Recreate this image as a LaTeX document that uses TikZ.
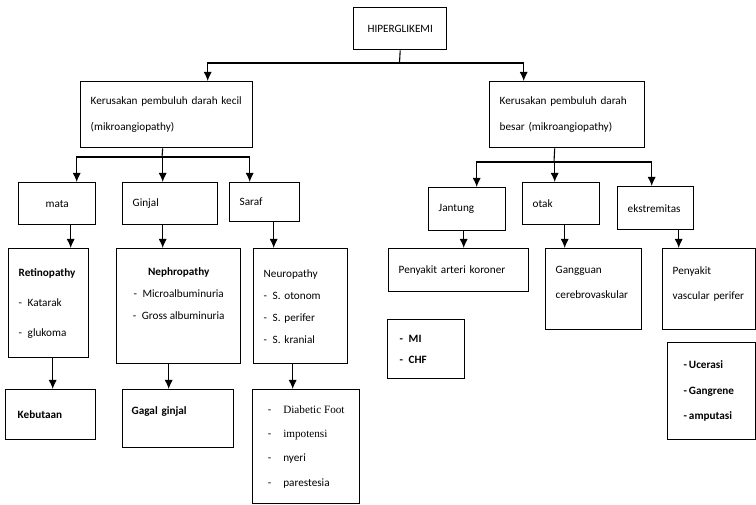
\documentclass[tikz,border=0pt]{standalone}
\usepackage{fontspec}
\setmainfont{Carlito}
\newfontfamily\timesfont{Liberation Serif}
\usepackage{tikz}
\usetikzlibrary{arrows.meta}
\tikzstyle{box} = [draw, line width=1.4pt, anchor=north west, inner xsep=10pt,
    inner ysep=0pt, align=left, font=\fontsize{11.2}{22}\selectfont]
\tikzstyle{line} = [draw, line width=1.1pt, -{Latex[length=9pt,width=8pt]}]

\begin{document}
\begin{tikzpicture}[x=1pt,y=-1pt]
    \useasboundingbox (0,0) rectangle (756,505);

    % Root
    \node [box, align=center, minimum width=93pt, minimum height=42pt] (hiper) at (353,7) {HIPERGLIKEMI};

    % Damage types
    \node [box, text width=152pt, minimum height=66pt, font=\fontsize{11.2}{26}\selectfont] (kecil) at (80,81)
        {Kerusakan pembuluh darah kecil\\(mikroangiopathy)};
    \node [box, text width=135pt, minimum height=66pt, font=\fontsize{11.2}{26}\selectfont] (besar) at (489,81)
        {Kerusakan pembuluh darah\\besar (mikroangiopathy)};

    % Organs, small vessels
    \node [box, align=center, minimum width=77pt, minimum height=42pt] (mata) at (18,182) {mata};
    \node [box, text width=75pt, minimum height=42pt] (ginjal) at (122,182) {Ginjal};
    \node [box, text width=50pt, minimum height=39pt] (saraf) at (229,182) {Saraf};

    % Organs, large vessels
    \node [box, text width=57pt, minimum height=43pt] (jantung) at (428,187) {Jantung};
    \node [box, text width=57pt, minimum height=42pt] (otak) at (522,182) {otak};
    \node [box, text width=56pt, minimum height=43pt] (ekstrem) at (617,186) {ekstremitas};

    % Diseases
    \node [box, text width=60pt, minimum height=109pt, font=\fontsize{11.2}{30}\selectfont] (retino) at (8,248)
        {\textbf{Retinopathy}\\-\enspace Katarak\\-\enspace glukoma};
    \node [box, align=center, minimum width=124pt, minimum height=115pt] (nephro) at (116,248)
        {\textbf{Nephropathy}\\-\enspace Microalbuminuria\\-\enspace Gross albuminuria\\[4pt]\mbox{}};
    \node [box, text width=74pt, minimum height=115pt] (neuro) at (253,248)
        {Neuropathy\\-\enspace S. otonom\\-\enspace S. perifer\\-\enspace S. kranial};
    \node [box, text width=120pt, minimum height=43pt] (koroner) at (388,248) {Penyakit arteri koroner};
    \node [box, text width=76pt, minimum height=81pt, font=\fontsize{11.2}{25}\selectfont] (serebro) at (545,248)
        {Gangguan\\cerebrovaskular\\[-12pt]\mbox{}};
    \node [box, text width=73pt, minimum height=81pt, font=\fontsize{11.2}{25}\selectfont] (vaskular) at (662,248)
        {Penyakit\\vascular perifer\\[-12pt]\mbox{}};

    % Outcomes
    \node [box, text width=66pt, inner xsep=12pt, minimum height=50pt] (buta) at (5,389) {\textbf{Kebutaan}};
    \node [box, text width=93pt, inner xsep=9pt, minimum height=58pt] (gagal) at (122,389)
        {\textbf{Gagal ginjal}\\[-6pt]\mbox{}};
    \node [box, minimum width=107pt, minimum height=114pt, font=\fontsize{11.2}{24.3}\selectfont] (kaki) at (252,389)
        {-\hspace{12pt}{\timesfont Diabetic Foot}\\-\hspace{12pt}{\timesfont impotensi}\\-\hspace{12pt}nyeri\\-\hspace{12pt}parestesia};
    \node [box, text width=53pt, inner xsep=12pt, minimum height=59pt, font=\fontsize{11.2}{21}\bfseries] (mi) at (387,319)
        {-\enspace MI\\-\enspace CHF};
    \node [box, text width=56pt, inner xsep=16pt, minimum height=97pt, font=\fontsize{11.2}{25.5}\bfseries] (ulkus) at (667,342)
        {-\,Ucerasi\\-\,Gangrene\\-\,amputasi};

    % Buses
    \coordinate (topbus) at (399.5,63);
    \coordinate (kbus) at (162,157);
    \coordinate (bbus) at (554,162);

    % Connect everything
    \draw [line width=1.1pt] (hiper.south) -- (topbus);
    \path [line] (topbus) -| ([xshift=41pt]kecil.north);
    \path [line] (topbus) -| ([xshift=-43.5pt]besar.north);

    \draw [line width=1.1pt] ([xshift=-4pt]kecil.south) -- (kbus);
    \path [line] (kbus) -| ([xshift=19.5pt]mata.north);
    \path [line] (kbus) -| ([xshift=-7.5pt]ginjal.north);
    \path [line] (kbus) -| ([xshift=-15pt]saraf.north);

    \draw [line width=1.1pt] ([xshift=-12.5pt]besar.south) -- (bbus);
    \path [line] (bbus) -| ([xshift=9.5pt]jantung.north);
    \path [line] (bbus) -| ([xshift=-6.5pt]otak.north);
    \path [line] (bbus) -| ([xshift=-4pt]ekstrem.north);

    \path [line] ([xshift=13.5pt]mata.south) -- ([xshift=13.5pt]mata.south |- retino.north);
    \path [line] ([xshift=-7.5pt]ginjal.south) -- ([xshift=-7.5pt]ginjal.south |- nephro.north);
    \path [line] ([xshift=9pt]saraf.south) -- ([xshift=9pt]saraf.south |- neuro.north);
    \path [line] ([xshift=-3.5pt]jantung.south) -- ([xshift=-3.5pt]jantung.south |- koroner.north);
    \path [line] ([xshift=3.5pt]otak.south) -- ([xshift=3.5pt]otak.south |- serebro.north);
    \path [line] ([xshift=23pt]ekstrem.south) -- ([xshift=23pt]ekstrem.south |- vaskular.north);

    \path [line] ([xshift=4pt]retino.south) -- ([xshift=4pt]retino.south |- buta.north);
    \path [line] ([xshift=-10pt]nephro.south) -- ([xshift=-10pt]nephro.south |- gagal.north);
    \path [line] ([xshift=-8pt]neuro.south) -- ([xshift=-8pt]neuro.south |- kaki.north);
\end{tikzpicture}
\end{document}
